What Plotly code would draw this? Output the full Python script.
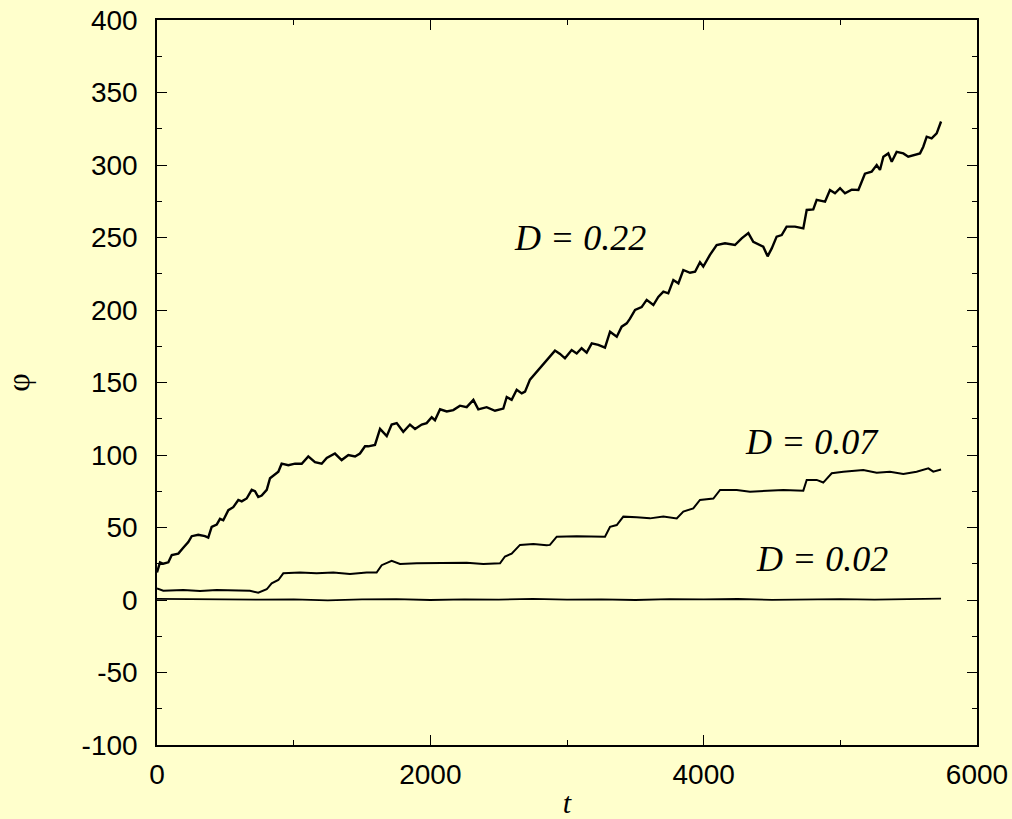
import plotly.graph_objects as go

# D = 0.22
t22 = [0, 5, 22, 46, 83, 108, 156, 192, 229, 254, 302, 351, 375, 400, 437, 461, 485, 522, 558, 595,
       620, 656, 693, 717, 741, 766, 803, 827, 863, 888, 912, 961, 1010, 1059, 1107, 1156, 1205, 1242,
       1302, 1351, 1400, 1449, 1485, 1522, 1546, 1595, 1632, 1681, 1717, 1754, 1802, 1851, 1888, 1937,
       1973, 2010, 2034, 2071, 2120, 2168, 2217, 2266, 2315, 2351, 2412, 2473, 2534, 2559, 2595, 2632,
       2669, 2693, 2729, 2778, 2830, 2870, 2912, 2949, 2985, 3034, 3071, 3107, 3144, 3181, 3229, 3278,
       3315, 3364, 3400, 3437, 3461, 3498, 3546, 3583, 3632, 3668, 3705, 3741, 3778, 3815, 3851, 3900,
       3937, 3973, 3997, 4046, 4095, 4156, 4229, 4278, 4327, 4363, 4412, 4436, 4468, 4498, 4534, 4571,
       4607, 4668, 4729, 4754, 4802, 4827, 4888, 4924, 4961, 4998, 5034, 5083, 5132, 5156, 5180, 5229,
       5266, 5290, 5315, 5351, 5376, 5412, 5461, 5497, 5546, 5583, 5607, 5632, 5668, 5705, 5737]
v22 = [19, 21, 26, 25, 26, 31, 32, 36, 40, 44, 45, 44, 43, 50.5, 52, 56, 55, 62, 64, 69,
       68, 70, 76, 75, 71, 72, 76, 84, 87, 88.5, 94, 93, 94, 94, 99, 95, 94, 98,
       101, 96.5, 100, 99, 101, 106, 106, 107, 118, 113, 121, 122, 116, 121, 118, 121,
       122, 126, 124, 131.5, 130, 131, 134, 133, 138, 131.5, 133, 130.5, 132, 140, 138, 145,
       142.5, 143.7, 152, 157.5, 163, 168, 172, 169.7, 166.7, 172.4, 170, 173.6, 170.6, 177, 176, 174,
       185, 181.6, 188.5, 190.8, 194, 200, 202, 207, 203.4, 209, 212.6, 211.5, 220.7, 218.4, 227.6, 225.7,
       226.4, 233, 230, 238, 244.8, 246, 244.8, 249.4, 253, 247, 244.8, 243.7, 237, 242.5, 250.6, 251.7,
       257.5, 257.5, 256.3, 269, 269.4, 276, 274.7, 282.8, 280.5, 284, 280.5, 283, 282.8, 288.5, 294, 295.4,
       300, 296.6, 305.7, 308, 302.3, 309, 308, 305.7, 307, 308, 312.6, 319.5, 318.4, 321.8, 330]

# D = 0.07
t07 = [0, 46, 192, 315, 437, 558, 680, 741, 803, 839, 888, 924, 1046, 1168, 1290, 1412, 1534, 1607,
       1644, 1717, 1778, 1900, 2022, 2144, 2266, 2388, 2510, 2546, 2595, 2656, 2754, 2851, 2875, 2925,
       3071, 3278, 3315, 3364, 3412, 3510, 3607, 3705, 3803, 3851, 3924, 3973, 4071, 4120, 4242, 4339,
       4461, 4583, 4729, 4754, 4827, 4875, 4937, 5022, 5168, 5266, 5363, 5461, 5558, 5644, 5680, 5737]
v07 = [8, 6.4, 6.9, 6.2, 6.9, 6.4, 6.4, 5, 7.4, 11.5, 13.8, 18.4, 18.9, 18.4, 18.9, 18, 18.9, 18.9,
       24, 27, 24.8, 25.3, 25.3, 25.3, 25.7, 24.8, 25.3, 30, 32, 38, 38.6, 37.7, 38, 43.7,
       44, 43.7, 50.5, 51.7, 57.5, 57, 56.3, 57.5, 56.3, 61, 63.2, 69, 70, 75.9, 75.9, 74.7,
       75.4, 75.9, 75.4, 82.8, 82.8, 81, 87.4, 88.5, 89.7, 87.8, 88.5, 86.9, 88.5, 90.8, 88.5, 90]

# D = 0.02
t02 = [0, 250, 500, 750, 1000, 1250, 1500, 1750, 2000, 2250, 2500, 2750, 3000, 3250, 3500, 3750,
       4000, 4250, 4500, 4750, 5000, 5250, 5500, 5737]
v02 = [0.8, 0.5, 0.7, 0.2, 0.5, -0.3, 0.4, 0.6, 0.0, 0.5, 0.3, 0.8, 0.2, 0.5, 0.0, 0.6,
       0.4, 0.7, 0.1, 0.5, 0.6, 0.3, 0.5, 0.9]

labels = ["D = 0.22", "D = 0.07", "D = 0.02"]
label_t = [3095, 4793, 4866]
label_v = [250, 109, 28]

xticks = [0, 2000, 4000, 6000]
xticktext = ["0", "2000", "4000", "6000"]
yticks = [-100, -50, 0, 50, 100, 150, 200, 250, 300, 350, 400]
yticktext = ["-100", "-50", "0", "50", "100", "150", "200", "250", "300", "350", "400"]

bg = "#FFFFCC"
fig = go.Figure()
for tt, vv, w in [(t22, v22, 2.4), (t07, v07, 2.0), (t02, v02, 1.8)]:
    fig.add_trace(go.Scatter(x=tt, y=vv, mode="lines", line=dict(color="black", width=w),
                             showlegend=False))

for txt, xt, yv in zip(labels, label_t, label_v):
    fig.add_annotation(x=xt, y=yv, text=txt, showarrow=False,
                       font=dict(family="Liberation Serif", size=36, color="black", style="italic"))

axis_common = dict(showline=True, linecolor="black", linewidth=1.5, mirror="ticks",
                   ticks="inside", ticklen=10, tickwidth=1.2, tickcolor="black",
                   showgrid=False, zeroline=False, automargin=False,
                   tickfont=dict(family="Liberation Sans", size=28, color="black"))

fig.update_xaxes(range=[0, 6000], tickvals=xticks, ticktext=xticktext, ticklabelstandoff=4,
                 minor=dict(ticks="inside", ticklen=5, dtick=1000, tickcolor="black"),
                 title=dict(text="t", font=dict(family="Liberation Serif", size=30, style="italic",
                                                 color="black"), standoff=10),
                 **axis_common)
fig.update_yaxes(range=[-100, 400], tickvals=yticks, ticktext=yticktext, ticklabelstandoff=12,
                 minor=dict(ticks="inside", ticklen=5, dtick=25, tickcolor="black"),
                 title=dict(text="φ", font=dict(family="Liberation Serif", size=32, color="black"),
                            standoff=56),
                 **axis_common)

fig.update_layout(width=1012, height=819, paper_bgcolor=bg, plot_bgcolor=bg,
                  margin=dict(l=157, r=35, t=20, b=74))

fig.write_html("out.html", config={"displayModeBar": False},
               post_script="document.body.style.margin='0';document.body.style.padding='0';"
                           "document.body.style.background='#FFFFCC';")
